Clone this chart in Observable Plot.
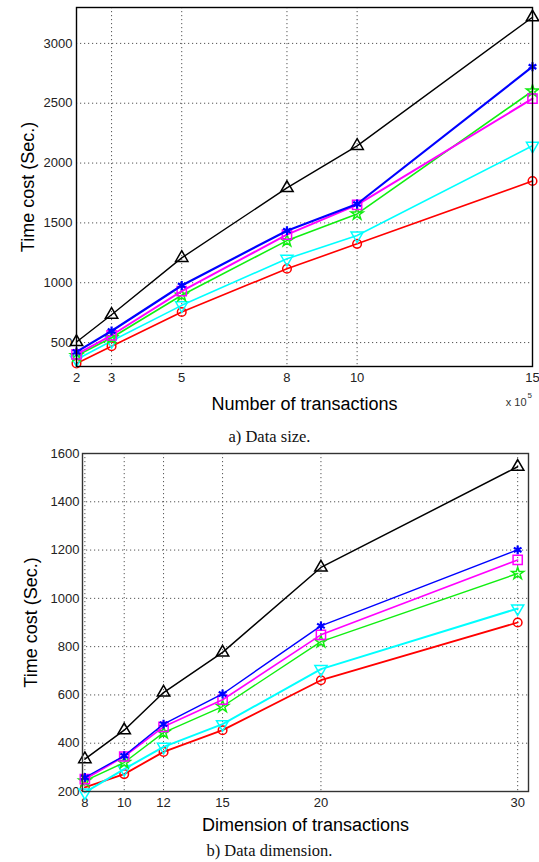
<!DOCTYPE html>
<html>
<head>
<meta charset="utf-8">
<script src="https://cdn.jsdelivr.net/npm/d3@7"></script>
<script src="https://cdn.jsdelivr.net/npm/@observablehq/plot@0.6"></script>
<style>
  html, body { margin: 0; padding: 0; background: #fff; }
  #wrap { width: 539px; }
  .cap { width: 539px; height: 22px; line-height: 22px; text-align: center;
         font-family: "Liberation Serif", "DejaVu Serif", serif; font-size: 16.5px; color: #111; }
  svg [aria-label="x-axis label"], svg [aria-label="y-axis label"] { font-size: 18px; fill: #000; }
</style>
</head>
<body>
<div id="wrap"></div>
<script>
// ---- Panel a) Data size ----
const sizeX = [2, 3, 5, 8, 10, 15];
const sizeBlack   = [505, 733, 1208, 1792, 2144, 3219];
const sizeBlue    = [422, 597, 977, 1435, 1658, 2805];
const sizeMagenta = [402, 561, 930, 1402, 1650, 2538];
const sizeGreen   = [390, 540, 895, 1352, 1575, 2602];
const sizeCyan    = [358, 513, 811, 1200, 1394, 2144];
const sizeRed     = [325, 469, 755, 1117, 1325, 1850];
const sizeYTicks  = [500, 1000, 1500, 2000, 2500, 3000];

// ---- Panel b) Data dimension ----
const dimX = [8, 10, 12, 15, 20, 30];
const dimBlack   = [334, 454, 610, 776, 1128, 1545];
const dimBlue    = [258, 348, 479, 604, 886, 1201];
const dimMagenta = [251, 345, 468, 580, 849, 1159];
const dimGreen   = [244, 320, 444, 552, 821, 1103];
const dimCyan    = [196, 293, 385, 479, 707, 958];
const dimRed     = [217, 272, 364, 454, 661, 900];
const dimYTicks  = [200, 400, 600, 800, 1000, 1200, 1400, 1600];

const triangleDown = {
  draw(context, size) {
    const s3 = Math.sqrt(3);
    const y = -Math.sqrt(size / (s3 * 3));
    context.moveTo(0, -y * 2);
    context.lineTo(-s3 * y, y);
    context.lineTo(s3 * y, y);
    context.closePath();
  }
};

const styles = [
  {key: "red",     color: "#ff0000", symbol: "circle",   r: 4.3},
  {key: "cyan",    color: "#00ffff", symbol: triangleDown, r: 4.5},
  {key: "green",   color: "#11ee11", symbol: "star",     r: 3.8},
  {key: "magenta", color: "#ff00ff", symbol: "square",   r: 5.2},
  {key: "blue",    color: "#0000ff", symbol: "asterisk", r: 4.2},
  {key: "black",   color: "#000000", symbol: "triangle", r: 4.6}
];

function rows(xs, ys) { return xs.map((x, i) => ({x, y: ys[i]})); }

function seriesMarks(seriesMap, widths) {
  const marks = [];
  for (const s of styles) {
    const d = seriesMap[s.key];
    marks.push(Plot.line(d, {x: "x", y: "y", stroke: s.color, strokeWidth: widths[s.key] || 1.5}));
    marks.push(Plot.dot(d, {x: "x", y: "y", stroke: s.color, fill: "none", symbol: s.symbol, r: s.r, strokeWidth: s.key === "blue" ? 2.2 : 1.5}));
  }
  return marks;
}

const fmt = d => String(d);
const wrap = document.getElementById("wrap");

// Panel a
const plotA = Plot.plot({
  width: 539, height: 426,
  marginTop: 7, marginBottom: 60, marginLeft: 76, marginRight: 7,
  style: {fontFamily: "'Liberation Sans', Arial, sans-serif", color: "#222", background: "#fff", overflow: "visible"},
  x: {domain: [2, 15]},
  y: {domain: [300, 3300]},
  marks: [
    Plot.gridX(sizeX, {stroke: "#555", strokeOpacity: 1, strokeDasharray: "1.2,2.8"}),
    Plot.gridY(sizeYTicks, {stroke: "#555", strokeOpacity: 1, strokeDasharray: "1.2,2.8"}),
    Plot.axisX(sizeX, {tickSize: 0, tickPadding: 6, fontSize: 13, tickFormat: fmt,
      label: "Number of transactions", labelAnchor: "center", labelArrow: "none", labelOffset: 43}),
    Plot.axisY(sizeYTicks, {tickSize: 0, tickPadding: 4, fontSize: 13, tickFormat: fmt,
      label: "Time cost (Sec.)", labelAnchor: "center", labelArrow: "none", labelOffset: 55}),
    ...seriesMarks({
      black: rows(sizeX, sizeBlack), blue: rows(sizeX, sizeBlue), magenta: rows(sizeX, sizeMagenta),
      green: rows(sizeX, sizeGreen), cyan: rows(sizeX, sizeCyan), red: rows(sizeX, sizeRed)
    }, {blue: 2.2, magenta: 2, black: 1.4, green: 1.6, cyan: 1.6, red: 1.6}),
    Plot.frame({stroke: "#000", strokeWidth: 1.4}),
    Plot.text(["x 10"], {frameAnchor: "bottom-right", dx: -6, dy: 39, textAnchor: "end", fontSize: 11, fill: "#333"}),
    Plot.text(["5"], {frameAnchor: "bottom-right", dx: -5, dy: 31, textAnchor: "start", fontSize: 8, fill: "#333"})
  ]
});
wrap.appendChild(plotA);

const capA = document.createElement("div");
capA.className = "cap";
capA.textContent = "a) Data size.";
wrap.appendChild(capA);

// Panel b
const plotB = Plot.plot({
  width: 539, height: 392,
  marginTop: 5, marginBottom: 49, marginLeft: 82, marginRight: 11,
  style: {fontFamily: "'Liberation Sans', Arial, sans-serif", color: "#222", background: "#fff", overflow: "visible"},
  x: {domain: [7.88, 30.55]},
  y: {domain: [200, 1600]},
  marks: [
    Plot.gridX(dimX, {stroke: "#555", strokeOpacity: 1, strokeDasharray: "1.2,2.8"}),
    Plot.gridY(dimYTicks, {stroke: "#555", strokeOpacity: 1, strokeDasharray: "1.2,2.8"}),
    Plot.axisX(dimX, {tickSize: 0, tickPadding: 6, fontSize: 13, tickFormat: fmt,
      label: "Dimension of transactions", labelAnchor: "center", labelArrow: "none", labelOffset: 39}),
    Plot.axisY(dimYTicks, {tickSize: 0, tickPadding: 3, fontSize: 13, tickFormat: fmt,
      label: "Time cost (Sec.)", labelAnchor: "center", labelArrow: "none", labelOffset: 58}),
    ...seriesMarks({
      black: rows(dimX, dimBlack), blue: rows(dimX, dimBlue), magenta: rows(dimX, dimMagenta),
      green: rows(dimX, dimGreen), cyan: rows(dimX, dimCyan), red: rows(dimX, dimRed)
    }, {blue: 1.4, magenta: 1.6, black: 1.5, green: 1.4, cyan: 2, red: 1.8}),
    Plot.frame({stroke: "#333", strokeWidth: 1.4})
  ]
});
wrap.appendChild(plotB);

const capB = document.createElement("div");
capB.className = "cap";
capB.textContent = "b) Data dimension.";
wrap.appendChild(capB);
</script>
</body>
</html>
